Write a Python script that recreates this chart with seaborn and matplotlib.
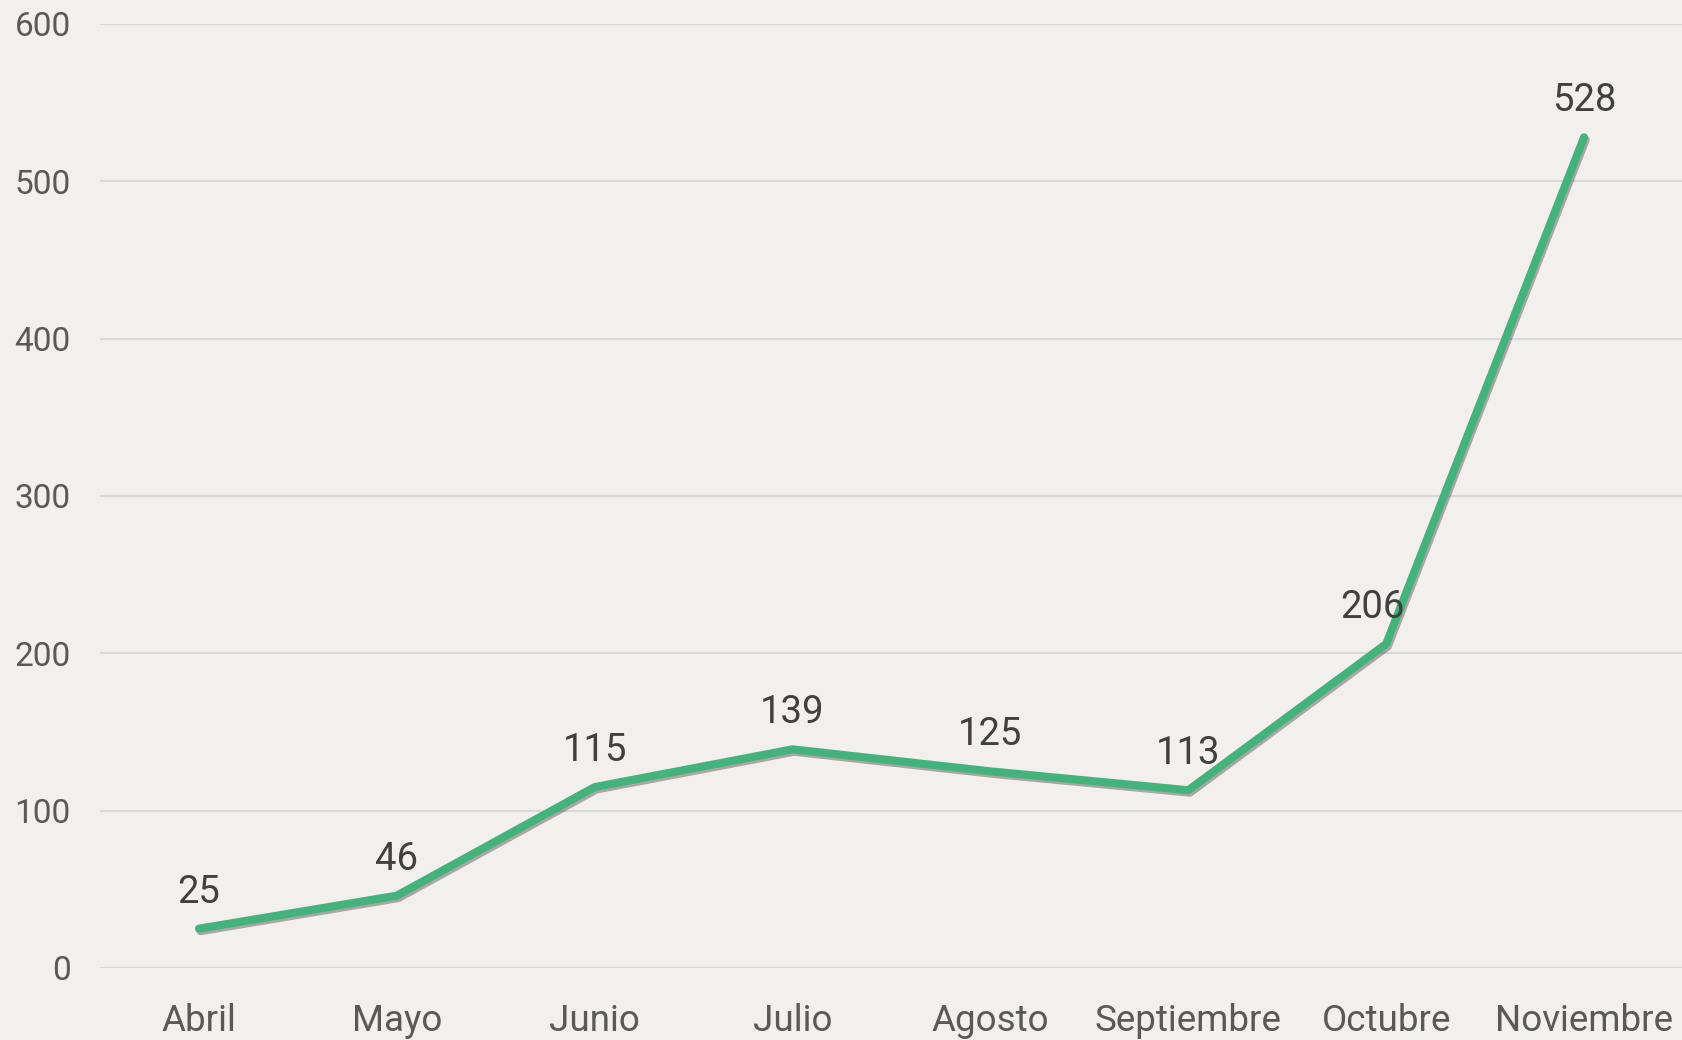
import matplotlib
matplotlib.use("Agg")
import matplotlib.pyplot as plt
import matplotlib.patheffects as pe
import pandas as pd
import seaborn as sns

# ==================== 数据 ====================
meses = ["Abril", "Mayo", "Junio", "Julio", "Agosto", "Septiembre", "Octubre", "Noviembre"]
valores = [25, 46, 115, 139, 125, 113, 206, 528]
y_ticks = [0, 100, 200, 300, 400, 500, 600]
# 标签的水平偏移（原图中 206 略向左）
label_dx = [0, 0, 0, 0, 0, 0, -10, 0]

df = pd.DataFrame({"mes": meses, "valor": valores, "pos": range(len(meses))})

# ==================== 样式 ====================
bg = "#F2EFEC"
verde = "#43B37B"
sns.set_theme(style="white")
plt.rcParams["font.family"] = ["Roboto", "DejaVu Sans"]

fig = plt.figure(figsize=(16.83, 10.40), dpi=100, facecolor=bg)
ax = fig.add_axes([100 / 1683, 1 - 968 / 1040, 1583 / 1683, 944 / 1040])
ax.set_facecolor(bg)

sns.lineplot(data=df, x="pos", y="valor", ax=ax, color=verde, linewidth=5.8,
             solid_capstyle="round", solid_joinstyle="round",
             path_effects=[pe.SimpleLineShadow(offset=(1.2, -1.8), shadow_color="#000000", alpha=0.3),
                           pe.Normal()],
             zorder=3)

# 数值标签
for x, v, dx in zip(df["pos"], df["valor"], label_dx):
    ax.annotate(str(v), (x, v), textcoords="offset points", xytext=(dx, 13),
                ha="center", va="bottom", fontsize=27.5, color="#404040")

ax.set_xlim(-0.5, len(meses) - 0.5)
ax.set_ylim(0, 600)
ax.set_yticks(y_ticks)
ax.set_xticks(range(len(meses)))
ax.set_xticklabels(meses)
ax.yaxis.grid(True, color="#D9D9D9", linewidth=1.5)
ax.set_axisbelow(True)
for s in ax.spines.values():
    s.set_visible(False)
ax.tick_params(axis="y", length=0, pad=21, labelsize=24, labelcolor="#595959")
ax.tick_params(axis="x", length=0, pad=25, labelsize=26.5, labelcolor="#595959")
ax.set_xlabel("")
ax.set_ylabel("")

fig.savefig("out.png", dpi=100, facecolor=bg)
